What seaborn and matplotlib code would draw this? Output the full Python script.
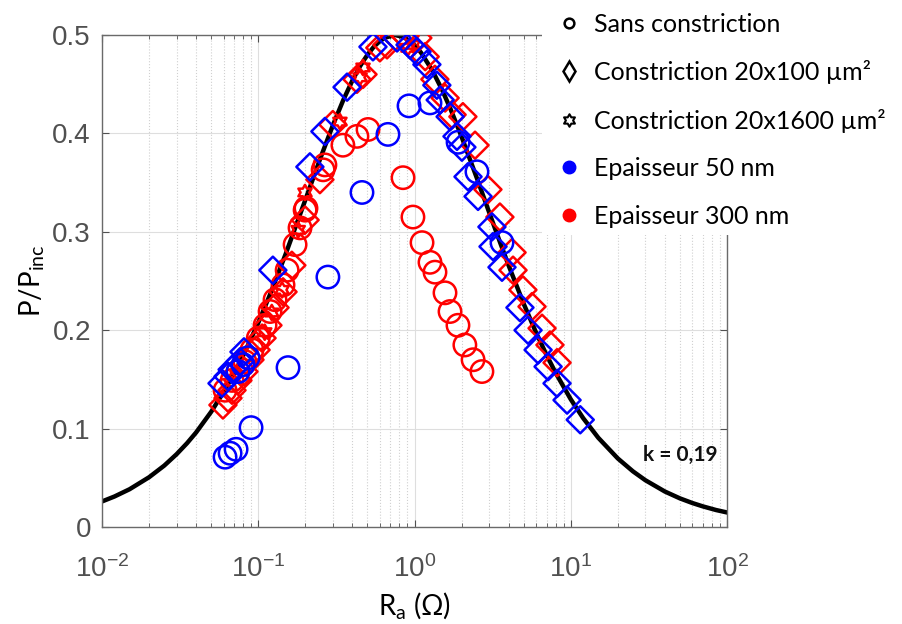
import numpy as np
import pandas as pd
import seaborn as sns
import matplotlib.pyplot as plt
from matplotlib.lines import Line2D
from matplotlib.patches import Rectangle
from matplotlib.path import Path
from matplotlib.ticker import LogLocator, NullFormatter

plt.rcParams["mathtext.fontset"] = "custom"
plt.rcParams["mathtext.rm"] = "Liberation Sans"
plt.rcParams["mathtext.default"] = "regular"

# theoretical curve
curve_R = [0.01, 0.012, 0.015, 0.02, 0.025, 0.03, 0.035, 0.04, 0.05, 0.06, 0.07, 0.08, 0.1,
           0.12, 0.15, 0.2, 0.25, 0.3, 0.35, 0.4, 0.45, 0.5, 0.55, 0.6, 0.65, 0.75, 0.85,
           1.0, 1.1, 1.3, 1.5, 1.7, 2, 2.5, 3, 3.5, 4, 5, 6, 7, 8, 10, 12, 15, 20, 25, 30,
           40, 50, 60, 70, 85, 100]
curve_P = [0.0260, 0.0310, 0.0384, 0.0506, 0.0624, 0.0740, 0.0852, 0.0961, 0.1172, 0.1372,
           0.1562, 0.1742, 0.2076, 0.2378, 0.2778, 0.3324, 0.3750, 0.4082, 0.4339, 0.4537,
           0.4688, 0.4800, 0.4882, 0.4938, 0.4974, 0.5000, 0.4980, 0.4898, 0.4821, 0.4640,
           0.4444, 0.4248, 0.3967, 0.3550, 0.3200, 0.2907, 0.2659, 0.2268, 0.1975, 0.1748,
           0.1567, 0.1298, 0.1107, 0.0907, 0.0697, 0.0566, 0.0476, 0.0361, 0.0291, 0.0244,
           0.0210, 0.0173, 0.0148]

# sans constriction, 50 nm
circ50_R = [0.0613, 0.066, 0.0721, 0.0899, 0.155, 0.279, 0.461, 0.676, 0.922, 1.256,
            0.0742, 0.0799, 0.086, 1.90, 2.51, 3.63]
circ50_P = [0.071, 0.075, 0.079, 0.101, 0.162, 0.254, 0.340, 0.399, 0.428, 0.431,
            0.158, 0.165, 0.172, 0.391, 0.361, 0.289]

# sans constriction, 300 nm
circ300_R = [0.348, 0.428, 0.504, 0.844, 0.977, 1.117, 1.256, 1.352, 1.567, 1.687, 1.897,
             2.10, 2.37, 2.70,
             0.0613, 0.068, 0.0741, 0.0822, 0.0912, 0.1, 0.1105, 0.119, 0.128, 0.144,
             0.153, 0.172, 0.185, 0.1994, 0.202, 0.26, 0.267]
circ300_P = [0.388, 0.397, 0.404, 0.355, 0.315, 0.289, 0.269, 0.259, 0.238, 0.219, 0.205,
             0.185, 0.170, 0.158,
             0.139, 0.149, 0.158, 0.168, 0.180, 0.192, 0.205, 0.219, 0.231, 0.246,
             0.261, 0.287, 0.304, 0.322, 0.324, 0.363, 0.368]

# constriction 20x100, 50 nm
diam50_R = [0.0586, 0.064, 0.068, 0.0764, 0.081, 0.124, 0.214, 0.267, 0.370, 0.542, 0.773,
            0.936, 1.038, 1.20, 1.39, 1.46, 1.69, 1.87, 2.01, 2.20, 2.55, 3.13, 3.18, 3.63,
            4.73, 5.33, 6.18, 7.16, 8.17, 9.47, 11.5]
diam50_P = [0.146, 0.153, 0.160, 0.168, 0.178, 0.261, 0.366, 0.402, 0.447, 0.488, 0.497,
            0.490, 0.483, 0.470, 0.449, 0.434, 0.417, 0.397, 0.386, 0.356, 0.336, 0.305,
            0.285, 0.264, 0.223, 0.200, 0.180, 0.163, 0.146, 0.129, 0.109]

# constriction 20x100, 300 nm
diam300_R = [0.0594, 0.064, 0.0679, 0.0741, 0.081, 0.0885, 0.0968, 0.1057, 0.1153, 0.128,
             0.144, 0.164, 0.1994, 0.248, 0.30, 0.428, 0.468, 0.60, 0.667, 0.87, 1.05,
             1.17, 1.35, 1.57, 1.74, 2.04, 2.44, 2.95, 3.52, 4.21, 4.27, 4.94, 5.65, 6.55,
             7.36, 8.17]
diam300_P = [0.124, 0.131, 0.139, 0.149, 0.158, 0.170, 0.180, 0.192, 0.205, 0.223,
             0.239, 0.266, 0.312, 0.353, 0.409, 0.455, 0.460, 0.487, 0.490, 0.499, 0.497,
             0.478, 0.455, 0.436, 0.419, 0.417, 0.388, 0.343, 0.315, 0.279, 0.261, 0.241,
             0.224, 0.202, 0.185, 0.167]

# constriction 20x1600, 300 nm
star300_R = [0.11, 0.122, 0.142, 0.18, 0.199, 0.333, 0.448, 0.468, 0.908, 0.98]
star300_P = [0.198, 0.218, 0.241, 0.302, 0.340, 0.412, 0.457, 0.467, 0.487, 0.490]

legend_labels = ["Sans constriction", "Constriction 20x100 µm²", "Constriction 20x1600 µm²",
                 "Epaisseur 50 nm", "Epaisseur 300 nm"]

hexagram = Path.unit_regular_star(6, 0.577)
grey = "#505050"

fig = plt.figure(figsize=(9.03, 6.24), dpi=100)
ax = fig.add_axes([0.113, 0.1554, 0.6921, 0.7885])

sns.lineplot(x=curve_R, y=curve_P, color="black", linewidth=3.2, sort=False,
             estimator=None, ax=ax, zorder=2)

def open_markers(R, P, marker, col, size):
    sns.scatterplot(x=R, y=P, marker=marker, s=size, facecolors="none", edgecolor=col,
                    linewidth=1.8, ax=ax, zorder=3)

open_markers(circ300_R, circ300_P, "o", "red", 260)
open_markers(diam300_R, diam300_P, "D", "red", 190)
open_markers(star300_R, star300_P, hexagram, "red", 120)
open_markers(circ50_R, circ50_P, "o", "blue", 260)
open_markers(diam50_R, diam50_P, "D", "blue", 190)

ax.set_xscale("log")
ax.set_xlim(1e-2, 1e2)
ax.set_ylim(0, 0.5)
ax.set_yticks([0, 0.1, 0.2, 0.3, 0.4, 0.5], ["0", "0.1", "0.2", "0.3", "0.4", "0.5"])
ax.xaxis.set_major_locator(LogLocator(base=10, numticks=10))
ax.xaxis.set_minor_locator(LogLocator(base=10, subs=np.arange(2, 10), numticks=10))
ax.xaxis.set_minor_formatter(NullFormatter())

ax.grid(True, which="major", color="#dedede", linewidth=0.8, linestyle="-")
ax.grid(True, which="minor", axis="x", color="#d0d0d0", linewidth=0.8, linestyle=":")
ax.set_axisbelow(True)
ax.tick_params(which="both", direction="in", top=True, right=True, colors=grey,
               labelcolor=grey, labelsize=20)
ax.tick_params(axis="x", pad=20)
ax.tick_params(axis="y", pad=8)
ax.tick_params(which="major", length=5)
ax.tick_params(which="minor", length=3)
for lab in ax.get_xticklabels() + ax.get_yticklabels():
    lab.set_family("Liberation Sans")
for sp in ax.spines.values():
    sp.set_color("#6a6a6a")
    sp.set_linewidth(1.0)

ax.set_xlabel("R$_\\mathregular{a}$ (Ω)", family="Lato", fontsize=20, labelpad=5)
ax.set_ylabel("P/P$_\\mathregular{inc}$", family="Lato", fontsize=20, labelpad=4)
ax.text(0.9856, 0.146, "k = 0,19", transform=ax.transAxes, ha="right", va="center",
        family="Lato", fontweight="bold", fontsize=15, color="#111111")

# white block behind the legend, over the top-right of the axes
fig.add_artist(Rectangle((0.6, 0.623), 0.4, 0.377, transform=fig.transFigure,
                         facecolor="white", edgecolor="none", zorder=4))

handles = [
    Line2D([], [], linestyle="none", marker="o", markersize=7, markerfacecolor="none",
           markeredgecolor="black", markeredgewidth=1.8),
    Line2D([], [], linestyle="none", marker="d", markersize=10, markerfacecolor="none",
           markeredgecolor="black", markeredgewidth=1.8),
    Line2D([], [], linestyle="none", marker=hexagram, markersize=9, markerfacecolor="none",
           markeredgecolor="black", markeredgewidth=1.5),
    Line2D([], [], linestyle="none", marker="o", markersize=9, color="blue"),
    Line2D([], [], linestyle="none", marker="o", markersize=9, color="red"),
]
leg = fig.legend(handles, legend_labels, loc="upper left", bbox_to_anchor=(0.594, 1.012),
                 frameon=False, prop={"family": "Lato", "size": 18},
                 labelspacing=0.98, handlelength=1.0, handletextpad=0.5, borderpad=0.3)
leg.set_zorder(5)

fig.savefig("out.png", dpi=100)
